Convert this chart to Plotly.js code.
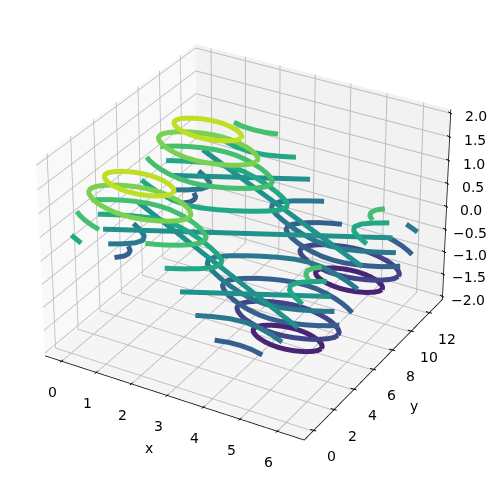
<!DOCTYPE html>
<html><head><meta charset="utf-8">
<script src="https://cdn.plot.ly/plotly-3.0.1.min.js"></script>
<style>html,body{margin:0;padding:0;background:#fff;overflow:hidden;width:498px;height:482px}
#wrap{position:absolute;left:0;top:0;width:498px;height:482px;overflow:hidden}
#plot{position:absolute}</style></head>
<body><div id="wrap"><div id="plot"></div></div>
<script>
const xTicks=[0,1,2,3,4,5,6];
const yTicks=[0,2,4,6,8,10,12];
const zTicks=[-2,-1.5,-1,-0.5,0,0.5,1,1.5,2];
const zTickText=['\u22122.0','\u22121.5','\u22121.0','\u22120.5','0.0','0.5','1.0','1.5','2.0'];
const levels=[-1.6,-1.2,-0.8,-0.4,0,0.4,0.8,1.2,1.6];
const levelColors=['#482475','#414487','#355f8d','#2a788e','#21918c','#22a884','#44bf70','#7ad151','#bddf26'];

const r16x=[2.50,2.47,2.39,2.21,1.97,1.77,1.57,1.37,1.17,.93,.75,.67,.64,.67,.75,.93,1.17,1.37,1.57,1.77,1.97,2.21,2.39,2.47,2.50];
const r16y1=[1.57,1.77,1.97,2.21,2.39,2.47,2.50,2.47,2.39,2.21,1.97,1.77,1.57,1.37,1.17,.93,.75,.67,.64,.67,.75,.93,1.17,1.37,1.57];
const r16y2=[7.85,8.05,8.25,8.49,8.67,8.75,8.78,8.75,8.67,8.49,8.25,8.05,7.85,7.65,7.45,7.21,7.03,6.95,6.92,6.95,7.03,7.21,7.45,7.65,7.85];
const rm16x=[5.64,5.61,5.53,5.35,5.11,4.91,4.71,4.51,4.31,4.07,3.89,3.81,3.78,3.81,3.89,4.07,4.31,4.51,4.71,4.91,5.11,5.35,5.53,5.61,5.64];
const rm16y1=[4.71,4.91,5.11,5.35,5.53,5.61,5.64,5.61,5.53,5.35,5.11,4.91,4.71,4.51,4.31,4.07,3.89,3.81,3.78,3.81,3.89,4.07,4.31,4.51,4.71];
const rm16y2=[11.0,11.2,11.4,11.64,11.82,11.9,11.93,11.9,11.82,11.64,11.4,11.2,11.0,10.8,10.6,10.36,10.18,10.1,10.07,10.1,10.18,10.36,10.6,10.8,11.0];

const r12x=[2.94,2.91,2.81,2.65,2.50,2.32,2.07,1.82,1.57,1.32,1.07,.82,.64,.49,.33,.23,.20,.23,.33,.49,.64,.82,1.07,1.32,1.57,1.82,2.07,2.32,2.50,2.65,2.81,2.91,2.94];
const r12y1=[1.57,1.82,2.07,2.32,2.50,2.65,2.81,2.91,2.94,2.91,2.81,2.65,2.50,2.32,2.07,1.82,1.57,1.32,1.07,.82,.64,.49,.33,.23,.20,.23,.33,.49,.64,.82,1.07,1.32,1.57];
const r12y2=[7.85,8.10,8.35,8.60,8.78,8.93,9.09,9.19,9.22,9.19,9.09,8.93,8.78,8.60,8.35,8.10,7.85,7.60,7.35,7.10,6.92,6.77,6.61,6.51,6.48,6.51,6.61,6.77,6.92,7.10,7.35,7.60,7.85];
const rm12x=[6.08,6.05,5.95,5.79,5.64,5.46,5.21,4.96,4.71,4.46,4.21,3.96,3.78,3.63,3.47,3.37,3.34,3.37,3.47,3.63,3.78,3.96,4.21,4.46,4.71,4.96,5.21,5.46,5.64,5.79,5.95,6.05,6.08];
const rm12y1=[4.71,4.96,5.21,5.46,5.64,5.79,5.95,6.05,6.08,6.05,5.95,5.79,5.64,5.46,5.21,4.96,4.71,4.46,4.21,3.96,3.78,3.63,3.47,3.37,3.34,3.37,3.47,3.63,3.78,3.96,4.21,4.46,4.71];
const rm12y2=[11.0,11.25,11.5,11.75,11.93,12.08,12.24,12.34,12.37,12.34,12.24,12.08,11.93,11.75,11.5,11.25,11.0,10.75,10.5,10.25,10.07,9.92,9.76,9.66,9.63,9.66,9.76,9.92,10.07,10.25,10.5,10.75,11.0];

const p08ax=[0,.18,.41,.67,.93], p08ay=[.93,.67,.41,.18,0];
const p08bx=[2.21,2.47,2.73,2.96,3.14,3.30,3.34,3.30,3.14,2.96,2.73,2.47,2.21,1.87,1.57,1.27,.93,.67,.41,.18,0];
const p08by=[0,.18,.41,.67,.93,1.27,1.57,1.87,2.21,2.47,2.73,2.96,3.14,3.30,3.34,3.30,3.14,2.96,2.73,2.47,2.21];
const p08cx=[6.28,6.12,6.08,6.12,6.28], p08cy=[2.21,1.87,1.57,1.27,.93];
const p08dx=[6.28,6.12,6.08,6.12,6.28], p08dy=[8.49,8.15,7.85,7.55,7.21];
const p08ex=[0,.18,.41,.67,.93,1.27,1.57,1.87,2.21,2.47,2.73,2.96,3.14,3.30,3.34,3.30,3.14,2.96,2.73,2.47,2.21,1.87,1.57,1.27,.93,.67,.41,.18,0];
const p08ey=[7.21,6.95,6.69,6.46,6.28,6.12,6.08,6.12,6.28,6.46,6.69,6.95,7.21,7.55,7.85,8.15,8.49,8.75,9.01,9.24,9.42,9.58,9.62,9.58,9.42,9.24,9.01,8.75,8.49];
const p08fx=[.93,1.27,1.57,1.87,2.21], p08fy=[12.57,12.40,12.36,12.40,12.57];

const m08ax=[6.28,6.10,5.87,5.61,5.35,5.01,4.71,4.41,4.07,3.81,3.55,3.32,3.14,2.98,2.94,2.98,3.14,3.32,3.55,3.81,4.07,4.41,4.71,5.01,5.35,5.61,5.87,6.10,6.28];
const m08ay=[4.07,3.81,3.55,3.32,3.14,2.98,2.94,2.98,3.14,3.32,3.55,3.81,4.07,4.41,4.71,5.01,5.35,5.61,5.87,6.10,6.28,6.44,6.48,6.44,6.28,6.10,5.87,5.61,5.35];
const m08bx=[6.28,6.10,5.87,5.61,5.35,5.01,4.71,4.41,4.07,3.81,3.55,3.32,3.14,2.98,2.94,2.98,3.14,3.32,3.55,3.81,4.07];
const m08by=[10.36,10.10,9.84,9.61,9.43,9.27,9.23,9.27,9.43,9.61,9.84,10.10,10.36,10.70,11.0,11.3,11.64,11.9,12.16,12.39,12.57];
const m08cx=[5.35,5.61,5.87,6.10,6.28], m08cy=[12.57,12.39,12.16,11.9,11.64];
const m08dx=[4.07,4.41,4.71,5.01,5.35], m08dy=[0,.16,.2,.16,0];
const m08ex=[0,.16,.2,.16,0], m08ey=[4.07,4.41,4.71,5.01,5.35];
const m08fx=[0,.16,.2,.16,0], m08fy=[10.36,10.70,11.0,11.3,11.64];

const p04ax=[0,.2,.41], p04ay=[.41,.2,0];
const p04bx=[2.73,2.94,3.14,3.44,3.69,3.78,3.69,3.44,3.14,2.94,2.73,2.37,1.97,1.57,1.17,.77,.41,.2,0];
const p04by=[0,.2,.41,.77,1.17,1.57,1.97,2.37,2.73,2.94,3.14,3.44,3.69,3.78,3.69,3.44,3.14,2.94,2.73];
const p04cx=[6.28,5.98,5.73,5.64,5.73,5.98,6.28], p04cy=[2.73,2.37,1.97,1.57,1.17,.77,.41];
const p04dx=[6.28,5.98,5.73,5.64,5.73,5.98,6.28], p04dy=[9.01,8.65,8.25,7.85,7.45,7.05,6.69];
const p04ex=[0,.2,.41,.77,1.17,1.57,1.97,2.37,2.73,2.94,3.14,3.44,3.69,3.78,3.69,3.44,3.14,2.94,2.73,2.37,1.97,1.57,1.17,.77,.41,.2,0];
const p04ey=[6.69,6.48,6.28,5.98,5.73,5.64,5.73,5.98,6.28,6.48,6.69,7.05,7.45,7.85,8.25,8.65,9.01,9.22,9.42,9.72,9.97,10.06,9.97,9.72,9.42,9.22,9.01];
const p04fx=[.41,.77,1.17,1.57,1.97,2.37,2.73], p04fy=[12.57,12.26,12.01,11.92,12.01,12.26,12.57];

const m04ax=[6.28,6.08,5.87,5.51,5.11,4.71,4.31,3.91,3.55,3.34,3.14,2.84,2.59,2.50,2.59,2.84,3.14,3.34,3.55,3.91,4.31,4.71,5.11,5.51,5.87,6.08,6.28];
const m04ay=[3.55,3.34,3.14,2.84,2.59,2.50,2.59,2.84,3.14,3.34,3.55,3.91,4.31,4.71,5.11,5.51,5.87,6.08,6.28,6.58,6.83,6.92,6.83,6.58,6.28,6.08,5.87];
const m04bx=[6.28,6.08,5.87,5.51,5.11,4.71,4.31,3.91,3.55,3.34,3.14,2.84,2.59,2.50,2.59,2.84,3.14,3.34,3.55];
const m04by=[9.83,9.62,9.42,9.12,8.87,8.78,8.87,9.12,9.42,9.62,9.83,10.19,10.59,10.99,11.39,11.79,12.15,12.36,12.57];
const m04cx=[5.87,6.08,6.28], m04cy=[12.57,12.36,12.15];
const m04dx=[3.55,3.91,4.31,4.71,5.11,5.51,5.87], m04dy=[0,.3,.55,.64,.55,.3,0];
const m04ex=[0,.3,.55,.64,.55,.3,0], m04ey=[3.55,3.91,4.31,4.71,5.11,5.51,5.87];
const m04fx=[0,.3,.55,.64,.55,.3,0], m04fy=[9.83,10.19,10.59,10.99,11.39,11.79,12.15];

const z0ax=[0,6.28], z0ay=[6.28,0];
const z0bx=[0,6.28], z0by=[12.57,6.28];
const z0cx=[3.14,6.28], z0cy=[0,3.14];
const z0dx=[0,6.28], z0dy=[3.14,9.42];
const z0ex=[0,3.14], z0ey=[9.42,12.57];

const segments=[
 [0,rm16x,rm16y1],[0,rm16x,rm16y2],
 [1,rm12x,rm12y1],[1,rm12x,rm12y2],
 [2,m08ax,m08ay],[2,m08bx,m08by],[2,m08cx,m08cy],[2,m08dx,m08dy],[2,m08ex,m08ey],[2,m08fx,m08fy],
 [3,m04ax,m04ay],[3,m04bx,m04by],[3,m04cx,m04cy],[3,m04dx,m04dy],[3,m04ex,m04ey],[3,m04fx,m04fy],
 [4,z0ax,z0ay],[4,z0bx,z0by],[4,z0cx,z0cy],[4,z0dx,z0dy],[4,z0ex,z0ey],
 [5,p04ax,p04ay],[5,p04bx,p04by],[5,p04cx,p04cy],[5,p04dx,p04dy],[5,p04ex,p04ey],[5,p04fx,p04fy],
 [6,p08ax,p08ay],[6,p08bx,p08by],[6,p08cx,p08cy],[6,p08dx,p08dy],[6,p08ex,p08ey],[6,p08fx,p08fy],
 [7,r12x,r12y1],[7,r12x,r12y2],
 [8,r16x,r16y1],[8,r16x,r16y2]
];
const traces=segments.map(([lv,xs,ys])=>({type:'scatter3d',mode:'lines',x:xs,y:ys,z:xs.map(()=>levels[lv]),
  line:{color:levelColors[lv],width:10},hoverinfo:'skip',showlegend:false}));

const xRange=[-0.458,6.741], yRange=[-0.916,13.48], zRange=[-2.083,2.083];
const yEdge=yRange[0]+0.01, xEdge=xRange[1]-0.01, zEdge=zRange[0]+0.02, yBack=yRange[1]-0.01;
// axis spines along the three visible box edges, lifted just off the floor pane
const spine=(x,y,z)=>({type:'scatter3d',mode:'lines',x,y,z,line:{color:'#000',width:1.5},hoverinfo:'skip',showlegend:false});
traces.push(spine(xRange,[yEdge,yEdge],[zEdge,zEdge]));
traces.push(spine([xEdge,xEdge],yRange,[zEdge,zEdge]));
traces.push(spine([xEdge,xEdge],[yBack,yBack],zRange));

const S=2155, cx=247, cy=233.5;
const font={family:'DejaVu Sans',size:14,color:'#000'};
const ann=[];
const label=(x,y,z,text,dx,dy)=>ann.push({x,y,z,text,showarrow:false,xshift:dx,yshift:-dy,font});
const tick=(x,y,z,sx,sy,ax,ay)=>ann.push({x,y,z,text:'',showarrow:true,arrowhead:0,arrowwidth:1,arrowcolor:'#000',standoff:0,xshift:sx,yshift:-sy,ax,ay});
xTicks.forEach(v=>{label(v,yEdge,zEdge,String(v),-8,31);tick(v,yEdge,zEdge,2,-1,-4.5,3.5);});
yTicks.forEach(v=>{label(xEdge,v,zEdge,String(v),18,26);tick(xEdge,v,zEdge,-3.5,-1,7.5,2);});
zTicks.forEach((v,i)=>{label(xEdge,yBack,v,zTickText[i],25,3);tick(xEdge,yBack,v,-2.5,-1.5,5.5,3);});
label(3.14,yEdge,zEdge,'x',-23,51);
label(xEdge,6.3,zEdge,'y',38,40);

const axis=(range,tv,bg)=>({range,autorange:false,tickvals:tv,showticklabels:false,title:{text:''},
  showbackground:true,backgroundcolor:bg,showgrid:true,gridcolor:'#bcbcbc',gridwidth:2,zeroline:false,
  showline:false,ticks:'',showspikes:false});
const el=document.getElementById('plot');
el.style.left=(cx-S/2)+'px'; el.style.top=(cy-S/2)+'px'; el.style.width=S+'px'; el.style.height=S+'px';
Plotly.newPlot(el,traces,{width:S,height:S,margin:{l:0,r:0,t:0,b:0},paper_bgcolor:'#fff',showlegend:false,
 scene:{domain:{x:[0,1],y:[0,1]},aspectmode:'manual',aspectratio:{x:1,y:1,z:0.75},
  camera:{eye:{x:3.789,y:-6.562,z:4.375},center:{x:0,y:0,z:0},up:{x:0,y:0,z:1},projection:{type:'perspective'}},
  xaxis:axis(xRange,xTicks,'#f9f9f9'),yaxis:axis(yRange,yTicks,'#f2f2f2'),zaxis:axis(zRange,zTicks,'#f5f5f5'),
  annotations:ann}
},{displayModeBar:false,responsive:false});
</script></body></html>
